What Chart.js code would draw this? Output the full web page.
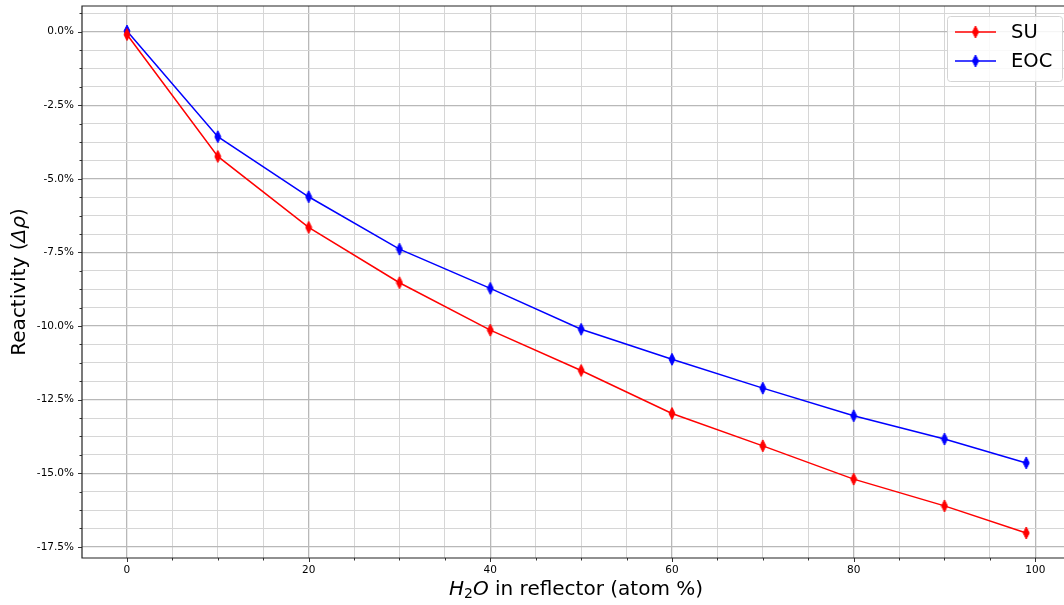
<!DOCTYPE html>
<html>
<head>
<meta charset="utf-8">
<script src="https://cdn.jsdelivr.net/npm/chart.js@4/dist/chart.umd.min.js"></script>
<style>
  html, body { margin: 0; padding: 0; background: #fff; }
  #wrap { width: 1064px; height: 605px; }
</style>
</head>
<body>
<div id="wrap"><canvas id="reactivity" width="1064" height="605"></canvas></div>
<script>
// water content in the reflector, atom %
var h2oContent = [0, 10, 20, 30, 40, 50, 60, 70, 80, 90, 99];
// reactivity change, %
var suValues = [-0.10, -4.24, -6.65, -8.53, -10.14, -11.51, -12.97, -14.07, -15.20, -16.11, -17.03];
var eocValues = [0.02, -3.57, -5.61, -7.39, -8.72, -10.11, -11.13, -12.11, -13.05, -13.84, -14.65];
var seriesNames = ['SU', 'EOC'];
var seriesColors = ['#ff0000', '#0000ff'];

var xTickValues = [];
for (var i = 0; i <= 100; i += 5) xTickValues.push(i);
var yTickValues = [];
for (var j = 1; j >= -28; j--) yTickValues.push(j * 0.625);

var FONT = "'DejaVu Sans', sans-serif";
var MAJOR_GRID = '#b8b8b8';
var MINOR_GRID = '#d6d6d6';

function isMajorX(v) { return Math.abs(v % 20) < 1e-6; }
function isMajorY(v) { return Math.abs(v / 2.5 - Math.round(v / 2.5)) < 1e-6; }

// thin diamond marker
function makeDiamond(color) {
    var c = document.createElement('canvas');
    c.width = 8;
    c.height = 14;
    var g = c.getContext('2d');
    g.fillStyle = color;
    g.strokeStyle = color;
    g.lineWidth = 1;
    g.beginPath();
    g.moveTo(4, 1);
    g.lineTo(7, 7);
    g.lineTo(4, 13);
    g.lineTo(1, 7);
    g.closePath();
    g.fill();
    g.stroke();
    return c;
}

function toPoints(xs, ys) {
    return xs.map(function (x, k) { return { x: x, y: ys[k] }; });
}

function noPadding(s) {
    s.paddingLeft = 0;
    s.paddingRight = 0;
    s.paddingTop = 0;
    s.paddingBottom = 0;
}

var diamonds = seriesColors.map(makeDiamond);

// spines, tick marks, axis titles and legend
var decorations = {
    id: 'decorations',
    afterDatasetsDraw: function (chart) {
        var ctx = chart.ctx;
        var a = chart.chartArea;
        var xs = chart.scales.x;
        var ys = chart.scales.y;
        ctx.save();

        // tick marks
        ctx.strokeStyle = '#333';
        ctx.lineWidth = 1;
        xTickValues.forEach(function (v) {
            var px = Math.round(xs.getPixelForValue(v)) + 0.5;
            var len = isMajorX(v) ? 4 : 2.5;
            ctx.beginPath();
            ctx.moveTo(px, a.bottom);
            ctx.lineTo(px, a.bottom + len);
            ctx.stroke();
        });
        yTickValues.forEach(function (v) {
            var py = ys.getPixelForValue(v);
            if (py < a.top || py > a.bottom) return;
            py = Math.round(py) + 0.5;
            var len = isMajorY(v) ? 4 : 2.5;
            ctx.beginPath();
            ctx.moveTo(a.left, py);
            ctx.lineTo(a.left - len, py);
            ctx.stroke();
        });

        // spines
        ctx.strokeStyle = '#222';
        ctx.lineWidth = 1.2;
        ctx.beginPath();
        ctx.moveTo(a.right, a.top);
        ctx.lineTo(a.left, a.top);
        ctx.lineTo(a.left, a.bottom);
        ctx.lineTo(a.right, a.bottom);
        ctx.stroke();

        // axis titles
        ctx.fillStyle = '#000';
        ctx.textBaseline = 'middle';
        ctx.textAlign = 'left';
        var size = 20;
        var parts = [
            { t: 'H', f: 'italic ' + size + 'px ' + FONT, dy: 0 },
            { t: '2', f: (size * 0.7) + 'px ' + FONT, dy: 4 },
            { t: 'O', f: 'italic ' + size + 'px ' + FONT, dy: 0 },
            { t: ' in reflector (atom %)', f: size + 'px ' + FONT, dy: 0 }
        ];
        drawParts(ctx, parts, 576, 590);

        ctx.save();
        ctx.translate(20, (a.top + a.bottom) / 2);
        ctx.rotate(-Math.PI / 2);
        drawParts(ctx, [
            { t: 'Reactivity (', f: size + 'px ' + FONT, dy: 0 },
            { t: '\u0394\u03c1', f: 'italic ' + size + 'px ' + FONT, dy: 0 },
            { t: ')', f: size + 'px ' + FONT, dy: 0 }
        ], 0, 0);
        ctx.restore();

        // legend
        var lx = 947, ly = 16, lw = 115, lh = 65;
        ctx.beginPath();
        ctx.roundRect(lx + 0.5, ly + 0.5, lw, lh, 3);
        ctx.fillStyle = 'rgba(255,255,255,0.85)';
        ctx.fill();
        ctx.strokeStyle = '#d4d4d4';
        ctx.lineWidth = 1;
        ctx.stroke();
        chart.data.datasets.forEach(function (ds, k) {
            var y = 32 + k * 29;
            ctx.strokeStyle = ds.borderColor;
            ctx.lineWidth = 1.5;
            ctx.beginPath();
            ctx.moveTo(955, y);
            ctx.lineTo(996, y);
            ctx.stroke();
            ctx.drawImage(diamonds[k], 975.5 - 4, y - 7);
            ctx.fillStyle = '#000';
            ctx.font = '19.5px ' + FONT;
            ctx.textAlign = 'left';
            ctx.textBaseline = 'middle';
            ctx.fillText(ds.label, 1011, y + 1);
        });

        ctx.restore();
    }
};

function drawParts(ctx, parts, cx, cy) {
    var total = 0;
    parts.forEach(function (p) { ctx.font = p.f; p.w = ctx.measureText(p.t).width; total += p.w; });
    var x = cx - total / 2;
    parts.forEach(function (p) {
        ctx.font = p.f;
        ctx.fillText(p.t, x, cy + p.dy);
        x += p.w;
    });
}

new Chart(document.getElementById('reactivity'), {
    type: 'line',
    data: {
        datasets: [
            {
                label: seriesNames[0],
                data: toPoints(h2oContent, suValues),
                borderColor: seriesColors[0],
                backgroundColor: seriesColors[0],
                borderWidth: 1.5,
                pointStyle: diamonds[0],
                tension: 0,
                fill: false,
                clip: false
            },
            {
                label: seriesNames[1],
                data: toPoints(h2oContent, eocValues),
                borderColor: seriesColors[1],
                backgroundColor: seriesColors[1],
                borderWidth: 1.5,
                pointStyle: diamonds[1],
                tension: 0,
                fill: false,
                clip: false
            }
        ]
    },
    options: {
        responsive: false,
        animation: false,
        layout: { autoPadding: false, padding: { top: 6, left: 0, right: 0, bottom: 0 } },
        plugins: {
            legend: { display: false },
            tooltip: { enabled: false }
        },
        scales: {
            x: {
                type: 'linear',
                min: -4.95,
                max: 103.16,
                afterFit: function (s) { s.height = 47; noPadding(s); },
                afterBuildTicks: function (s) {
                    s.ticks = xTickValues.map(function (v) { return { value: v }; });
                },
                ticks: {
                    autoSkip: false,
                    maxRotation: 0,
                    padding: 6,
                    color: '#000',
                    font: { family: FONT, size: 10.5 },
                    callback: function (v) { return isMajorX(v) ? String(v) : ''; }
                },
                grid: {
                    drawTicks: false,
                    color: function (c) { return isMajorX(c.tick.value) ? MAJOR_GRID : MINOR_GRID; },
                    lineWidth: function (c) { return isMajorX(c.tick.value) ? 1.3 : 1; }
                },
                border: { display: false }
            },
            y: {
                type: 'linear',
                min: -17.88,
                max: 0.87,
                afterFit: function (s) { s.width = 82; noPadding(s); },
                afterBuildTicks: function (s) {
                    s.ticks = yTickValues.map(function (v) { return { value: v }; });
                },
                ticks: {
                    autoSkip: false,
                    padding: 8,
                    color: '#000',
                    font: { family: FONT, size: 10.5 },
                    callback: function (v) { return isMajorY(v) ? v.toFixed(1) + '%' : ''; }
                },
                grid: {
                    drawTicks: false,
                    color: function (c) { return isMajorY(c.tick.value) ? MAJOR_GRID : MINOR_GRID; },
                    lineWidth: function (c) { return isMajorY(c.tick.value) ? 1.3 : 1; }
                },
                border: { display: false }
            }
        }
    },
    plugins: [decorations]
});
</script>
</body>
</html>
